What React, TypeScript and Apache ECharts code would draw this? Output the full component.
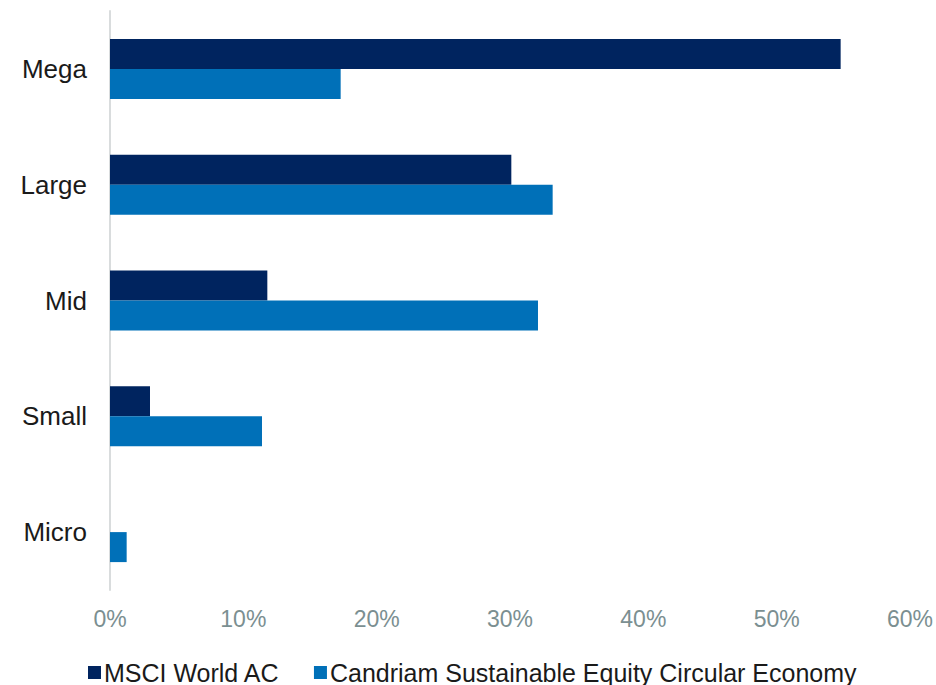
import React, { useEffect, useRef } from "react";
import * as echarts from "echarts";

const categories = ["Mega", "Large", "Mid", "Small", "Micro"];
const msciValues = [54.8, 30.1, 11.8, 3.0, 0];
const candriamValues = [17.3, 33.2, 32.1, 11.4, 1.25];
const seriesNames = ["MSCI World AC", "Candriam Sustainable Equity Circular Economy"];

export default function App() {
  const ref = useRef<HTMLDivElement>(null);
  useEffect(() => {
    document.body.style.margin = "0";
    const chart = echarts.init(ref.current!, null, { renderer: "svg" });
    chart.setOption({
      animation: false,
      textStyle: { fontFamily: "Liberation Sans, Arial, sans-serif" },
      grid: { left: 110, right: 25, top: 11, bottom: 95, containLabel: false },
      legend: {
        left: 83,
        top: 655,
        itemWidth: 13,
        itemHeight: 13,
        itemGap: 34,
        icon: "rect",
        textStyle: { fontSize: 25, color: "#1a1a1a", padding: [0, 0, 0, -2] },
        data: seriesNames,
      },
      xAxis: {
        type: "value",
        min: 0,
        max: 60,
        interval: 10,
        axisLine: { show: false },
        axisTick: { show: false },
        splitLine: { show: false },
        axisLabel: {
          formatter: "{value}%",
          fontSize: 23,
          color: "#7b8f91",
          margin: 17,
        },
      },
      yAxis: {
        type: "category",
        data: categories,
        inverse: true,
        axisLine: { show: true, lineStyle: { color: "#d9dcdd", width: 2 } },
        axisTick: { show: false },
        axisLabel: { fontSize: 26, color: "#1a1a1a", margin: 23 },
      },
      series: [
        {
          name: seriesNames[0],
          type: "bar",
          data: msciValues,
          barWidth: 30,
          barGap: "0%",
          itemStyle: { color: "#00245f" },
        },
        {
          name: seriesNames[1],
          type: "bar",
          data: candriamValues,
          barWidth: 30,
          barGap: "0%",
          itemStyle: { color: "#0070b8" },
        },
      ],
    });
    return () => chart.dispose();
  }, []);
  return <div ref={ref} style={{ width: 936, height: 685 }} />;
}
